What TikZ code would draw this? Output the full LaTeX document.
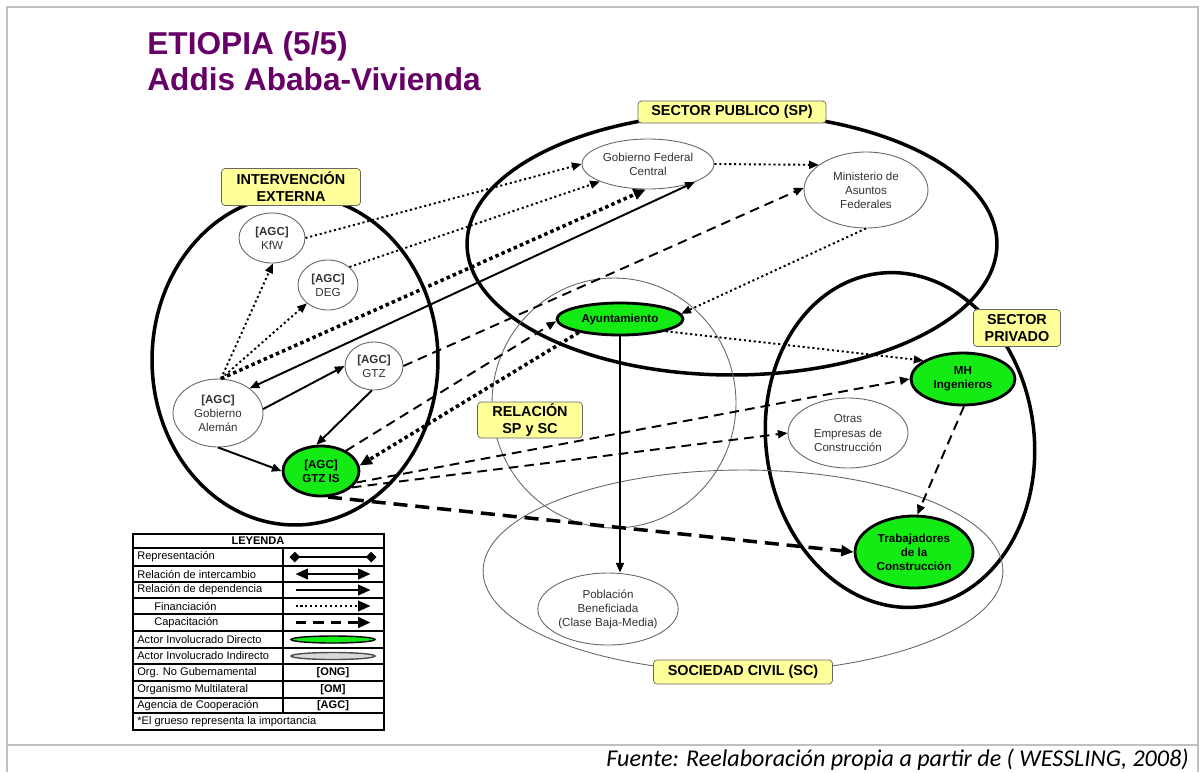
\documentclass[tikz,border=0pt]{standalone}
\usepackage{fontspec}
\setmainfont{Liberation Sans}
\newfontfamily\footfont{Carlito}
\usepackage{xcolor}
\usetikzlibrary{positioning, arrows.meta, shapes.geometric}

\definecolor{titlepurple}{RGB}{102,0,102}
\definecolor{actgreen}{RGB}{20,235,20}
\definecolor{tagyellow}{RGB}{255,255,153}
\definecolor{framegray}{RGB}{192,192,192}

\begin{document}
\begin{tikzpicture}[x=0.02cm, y=-0.02cm,
  region/.style={draw, ellipse, line width=2pt, inner sep=0pt},
  regionthin/.style={draw=black!60, ellipse, line width=0.5pt, inner sep=0pt},
  tag/.style={draw=black!60, fill=tagyellow, rounded corners=2pt, inner sep=0pt,
              align=center, font=\fontsize{8.2}{9.7}\selectfont\bfseries},
  actor/.style={draw=black!60, fill=white, ellipse, line width=0.5pt, inner sep=0pt,
              align=center, text=black!80, font=\fontsize{6.6}{8}\selectfont},
  directo/.style={draw, fill=actgreen, ellipse, line width=1.6pt, inner sep=0pt,
              align=center, font=\fontsize{6.6}{8}\selectfont\bfseries},
  depend/.style={-{Triangle[length=5.5pt,width=4.5pt]}, line width=1.1pt},
  finan/.style={depend, dash pattern=on 1.2pt off 1.6pt},
  finanheavy/.style={-{Triangle[length=7pt,width=6pt]}, line width=2pt,
              dash pattern=on 2pt off 1.8pt},
  capac/.style={depend, dash pattern=on 5.5pt off 3.5pt},
  capacheavy/.style={-{Triangle[length=7pt,width=6pt]}, line width=2pt,
              dash pattern=on 8pt off 4.5pt},
  interc/.style={{Triangle[length=5.5pt,width=4.5pt]}-{Triangle[length=5.5pt,width=4.5pt]},
              line width=1.1pt},
  legtext/.style={anchor=west, inner sep=0pt, font=\fontsize{6.3}{7}\selectfont},
  legcode/.style={inner sep=0pt, font=\fontsize{6.3}{7}\selectfont\bfseries},
  legsample/.style={minimum width=1.5cm, minimum height=1pt, inner sep=0pt, outer sep=0pt}
]
\useasboundingbox (0,0) rectangle (1201,772);

  % Frame
  \draw[framegray, line width=1.1pt] (7,772) -- (7,7) -- (1198,7) -- (1198,772);
  \draw[framegray, line width=1.1pt] (7,745) -- (1198,745);

  % Title and source
  \node[anchor=north west, align=left, inner sep=0pt, text=titlepurple,
        font=\fontsize{18}{20.5}\selectfont\bfseries] (title) at (147,31)
        {ETIOPIA (5/5)\\Addis Ababa-Vivienda};
  \node[anchor=base east, inner sep=0pt,
        font=\footfont\itshape\fontsize{13.7}{15}\selectfont] (fuente) at (1189,766)
        {Fuente: Reelaboración propia a partir de ( WESSLING, 2008)};

  % Regions
  \node[region, minimum width=5.72cm, minimum height=6.6cm] (ie) at (295,360) {};
  \node[region, minimum width=10.6cm, minimum height=5.24cm] (sp) at (732,244) {};
  \node[regionthin, minimum width=4.88cm, minimum height=5cm] (rel) at (614,403) {};
  \node[region, minimum width=5.36cm, minimum height=6.72cm, rotate=8] (spriv) at (900,440) {};
  \node[regionthin, minimum width=10.4cm, minimum height=4.04cm] (sc) at (743,571) {};

  % Region tags
  \node[tag, minimum width=2.78cm, minimum height=0.74cm] (ieTag) at (291,187) {INTERVENCIÓN\\EXTERNA};
  \node[tag, minimum width=3.76cm, minimum height=0.44cm] (spTag) at (732,112) {SECTOR PUBLICO (SP)};
  \node[tag, minimum width=2.1cm, minimum height=0.72cm] (relTag) at (530,420) {RELACIÓN\\SP y SC};
  \node[tag, minimum width=1.74cm, minimum height=0.74cm] (sprivTag) at (1017,328) {SECTOR\\PRIVADO};
  \node[tag, minimum width=3.58cm, minimum height=0.48cm] (scTag) at (743,672) {SOCIEDAD CIVIL (SC)};

  % Actors
  \node[actor, minimum width=1.32cm, minimum height=1cm] (kfw) at (272,238) {\textbf{[AGC]}\\KfW};
  \node[actor, minimum width=1.2cm, minimum height=1cm] (deg) at (328,285) {\textbf{[AGC]}\\DEG};
  \node[actor, minimum width=1.16cm, minimum height=0.96cm] (gtz) at (374,366) {\textbf{[AGC]}\\GTZ};
  \node[actor, minimum width=1.8cm, minimum height=1.36cm] (ga) at (218,413) {\textbf{[AGC]}\\Gobierno\\Alemán};
  \node[directo, minimum width=1.52cm, minimum height=1cm] (gtzis) at (321,471) {[AGC]\\GTZ IS};
  \node[actor, minimum width=2.64cm, minimum height=1cm] (gfc) at (648,164) {Gobierno Federal\\Central};
  \node[actor, minimum width=2.48cm, minimum height=1.52cm] (maf) at (866,190) {Ministerio de\\Asuntos\\Federales};
  \node[directo, minimum width=2.52cm, minimum height=0.64cm] (ayto) at (620,319) {Ayuntamiento};
  \node[directo, minimum width=2.08cm, minimum height=1.04cm] (mh) at (963,379) {MH\\Ingenieros};
  \node[actor, minimum width=2.4cm, minimum height=1.4cm] (otras) at (848,433) {Otras\\Empresas de\\Construcción};
  \node[directo, minimum width=2.36cm, minimum height=1.44cm] (trab) at (914,552) {Trabajadores\\de la\\Construcción};
  \node[actor, minimum width=2.64cm, minimum height=1.44cm] (pob) at (608,609) {Población\\Beneficiada\\(Clase Baja-Media)};

  % Financiacion
  \draw[finan] (ga.85) -- (kfw.-88);
  \draw[finan] (ga.85) -- (deg.221);
  \draw[finanheavy] (ga.85) -- (gfc.-95);
  \draw[finan] (kfw.east) -- (gfc.west);
  \draw[finan] (deg.40) -- (gfc.200);
  \draw[finan] (gfc.east) -- (maf.152);
  \draw[finan] (maf.-90) -- (ayto.5);
  \draw[finan] (ayto.-15) -- (mh.155);
  \draw[finanheavy] (ayto.198) -- (gtzis.8);

  % Dependencia e intercambio
  \draw[interc] (gfc.-21) -- (ga.38);
  \draw[depend] (ga.5) -- (gtz.west);
  \draw[depend] (gtz.-95) -- (gtzis.100);
  \draw[depend] (ga.-90) -- (gtzis.west);
  \draw[depend] (ayto.south) -- (ayto.south |- pob.north);

  % Capacitacion
  \draw[capac] (gtz.east) -- (maf.178);
  \draw[capac] (gtzis.39) -- (ayto.182);
  \draw[capac] (gtzis.-18) -- (mh.west);
  \draw[capac] (gtzis.-28) -- (otras.west);
  \draw[capacheavy] (gtzis.-75) -- (trab.west);
  \draw[capac] (mh.-88) -- (trab.85);

  % Legend
  \draw[line width=1pt] (133,534) rectangle (384,730);
  \foreach \yy in {548,566,582,598,614,631,648,664,681,698,713}
    \draw[line width=0.6pt] (133,\yy) -- (384,\yy);
  \draw[line width=0.6pt] (283,548) -- (283,713);
  \node[legcode] (lgHead) at (258,541) {LEYENDA};
  \node[legtext] (lgRep) at (137,557) {Representación};
  \node[legtext] (lgInt) at (137,574) {Relación de intercambio};
  \node[legtext] (lgDep) at (137,590) {Relación de dependencia};
  \node[legtext] (lgFin) at (154,606) {Financiación};
  \node[legtext] (lgCap) at (154,622.5) {Capacitación};
  \node[legtext] (lgDir) at (137,639.5) {Actor Involucrado Directo};
  \node[legtext] (lgInd) at (137,656) {Actor Involucrado Indirecto};
  \node[legtext] (lgOng) at (137,672.5) {Org. No Gubernamental};
  \node[legtext] (lgOm) at (137,689.5) {Organismo Multilateral};
  \node[legtext] (lgAgc) at (137,705.5) {Agencia de Cooperación};
  \node[legtext] (lgNota) at (137,721.5) {*El grueso representa la importancia};

  \node[legsample, minimum width=1.74cm] (smpRep) at (333,557) {};
  \draw[{Diamond[length=6pt,width=6pt]}-{Diamond[length=6pt,width=6pt]}, line width=0.9pt]
    (smpRep.west) -- (smpRep.east);
  \node[legsample] (smpInt) at (333,574) {};
  \draw[{Triangle[length=7pt,width=6pt]}-{Triangle[length=7pt,width=6pt]}, line width=1.2pt]
    (smpInt.west) -- (smpInt.east);
  \node[legsample] (smpDep) at (333,590) {};
  \draw[depend, -{Triangle[length=7pt,width=6pt]}] (smpDep.west) -- (smpDep.east);
  \node[legsample] (smpFin) at (333,606) {};
  \draw[finan, -{Triangle[length=7pt,width=6pt]}] (smpFin.west) -- (smpFin.east);
  \node[legsample] (smpCap) at (333,622.5) {};
  \draw[depend, -{Triangle[length=7pt,width=6pt]}, line width=1.3pt, dash pattern=on 6pt off 4pt]
    (smpCap.west) -- (smpCap.east);
  \node[directo, line width=0.8pt, minimum width=1.68cm, minimum height=0.14cm] (smpDir) at (333,639.5) {};
  \node[draw=black!70, fill=black!15, ellipse, line width=0.8pt, inner sep=0pt,
        minimum width=1.68cm, minimum height=0.14cm] (smpInd) at (333,656) {};
  \node[legcode] (codOng) at (333,672.5) {[ONG]};
  \node[legcode] (codOm) at (333,689.5) {[OM]};
  \node[legcode] (codAgc) at (333,705.5) {[AGC]};

\end{tikzpicture}
\end{document}
